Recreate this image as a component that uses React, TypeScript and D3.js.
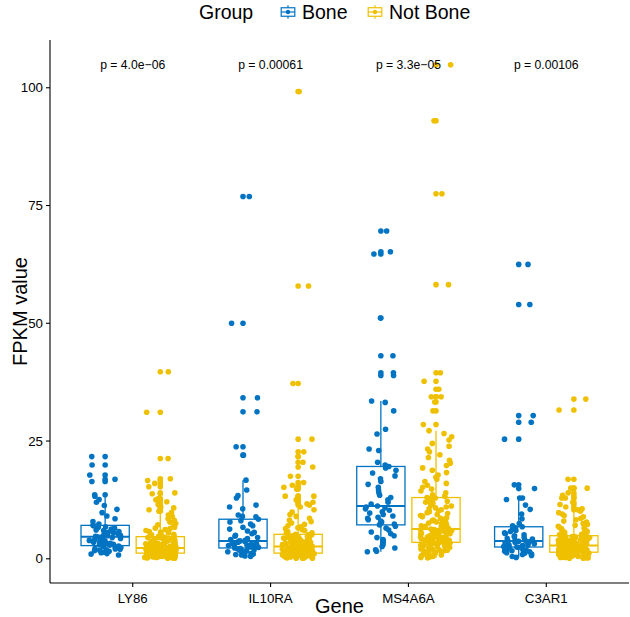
import React from 'react';
import * as d3 from 'd3';

const genes = ['LY86', 'IL10RA', 'MS4A6A', 'C3AR1'];
const groups = ['Bone', 'Not Bone'];
const groupColors = ['#0073C2', '#EFC000'];
const pLabels = ['p = 4.0e\u221206', 'p = 0.00061', 'p = 3.3e\u221205', 'p = 0.00106'];
const yTicks = [0, 25, 50, 75, 100];

const ly86Bone = [
  0.8, 1.0, 1.1, 1.3, 1.4, 1.6, 1.7, 1.8, 1.9, 2.0, 2.1, 2.2, 2.4, 2.5, 2.6, 2.7,
  2.8,
  2.9, 3.0, 3.1, 3.2, 3.3, 3.4, 3.5, 3.6, 3.8, 3.9, 4.0, 4.2, 4.3, 4.5, 4.6,
  4.7,
  4.8, 4.9, 5.0, 5.2, 5.3, 5.5, 5.6, 5.8, 6.0, 6.1, 6.3, 6.5, 6.7, 6.8, 7.0,
  7.1,
  7.4, 7.9, 8.5, 9.1, 9.8, 10.5, 11.3, 12.0, 12.6, 13.3, 13.6, 16.4, 16.9, 17.8, 19.9, 21.7,
];
const ly86NotBone = [
  0.1, 0.1, 0.2, 0.2, 0.2, 0.3, 0.3, 0.3, 0.4, 0.4, 0.4, 0.5, 0.5, 0.5, 0.5, 0.6, 0.6, 0.6, 0.6, 0.7,
  0.7, 0.7, 0.7, 0.8, 0.8, 0.8, 0.8, 0.9, 0.9, 0.9, 0.9, 1.0, 1.0, 1.0, 1.0, 1.1, 1.1, 1.1, 1.1, 1.2,
  1.2,
  1.2, 1.3, 1.3, 1.3, 1.4, 1.4, 1.4, 1.5, 1.5, 1.5, 1.6, 1.6, 1.6, 1.7, 1.7, 1.7, 1.8, 1.8, 1.8, 1.8,
  1.9, 1.9, 1.9, 2.0, 2.0, 2.0, 2.0, 2.1, 2.1, 2.1, 2.1, 2.2, 2.2, 2.2, 2.2, 2.3, 2.3, 2.3, 2.3,
  2.3,
  2.4, 2.4, 2.5, 2.5, 2.6, 2.6, 2.7, 2.7, 2.8, 2.8, 2.9, 2.9, 3.0, 3.0, 3.1, 3.1, 3.2, 3.2, 3.3, 3.3,
  3.4, 3.5, 3.5, 3.6, 3.7, 3.7, 3.8, 3.9, 4.0, 4.0, 4.1, 4.2, 4.2, 4.3, 4.4, 4.5, 4.5, 4.6, 4.6,
  4.7,
  4.8, 4.9, 5.0, 5.1, 5.2, 5.4, 5.5, 5.7, 5.8, 6.0, 6.2, 6.4, 6.5, 6.7, 7.0, 7.2, 7.5, 7.8, 8.1, 8.5,
  8.9, 9.3, 9.8,
  10.1, 10.4, 10.8, 11.0, 11.5, 12.1, 12.5, 12.8, 13.8, 14.0, 15.3, 16.0, 16.6, 17.0, 21.3, 31.1, 39.7,
];
const il10raBone = [
  0.5, 0.6, 0.8, 0.9, 1.0, 1.1, 1.2, 1.3, 1.4, 1.5, 1.6, 1.7, 1.8, 1.9, 2.1, 2.2,
  2.3,
  2.4, 2.5, 2.6, 2.7, 2.8, 2.9, 3.0, 3.0, 3.1, 3.2, 3.3, 3.4, 3.5, 3.6, 3.7,
  3.8,
  3.9, 4.1, 4.3, 4.5, 4.8, 5.0, 5.3, 5.6, 5.9, 6.3, 6.7, 7.0, 7.4, 7.8, 8.1,
  8.4,
  8.9, 9.0, 9.3, 10.6, 11.0, 11.4, 12.9, 13.4, 14.6, 16.7, 22.0, 23.8, 31.2, 34.2, 50.0, 76.9,
];
const il10raNotBone = [
  0.1, 0.1, 0.1, 0.2, 0.2, 0.2, 0.3, 0.3, 0.3, 0.4, 0.4, 0.4, 0.5, 0.5, 0.5, 0.5, 0.6, 0.6, 0.6, 0.7,
  0.7, 0.7, 0.7, 0.8, 0.8, 0.8, 0.8, 0.9, 0.9, 0.9, 0.9, 1.0, 1.0, 1.0, 1.0, 1.1, 1.1, 1.1, 1.1, 1.2,
  1.2,
  1.3, 1.3, 1.3, 1.4, 1.4, 1.4, 1.5, 1.5, 1.5, 1.6, 1.6, 1.6, 1.7, 1.7, 1.7, 1.8, 1.8, 1.8, 1.9, 1.9,
  1.9, 2.0, 2.0, 2.0, 2.1, 2.1, 2.1, 2.2, 2.2, 2.2, 2.3, 2.3, 2.3, 2.4, 2.4, 2.4, 2.5, 2.5, 2.5,
  2.6,
  2.7, 2.7, 2.8, 2.8, 2.9, 2.9, 3.0, 3.0, 3.1, 3.1, 3.2, 3.3, 3.3, 3.4, 3.5, 3.5, 3.6, 3.7, 3.7, 3.8,
  3.9, 4.0, 4.0, 4.1, 4.2, 4.3, 4.3, 4.4, 4.5, 4.6, 4.6, 4.7, 4.8, 4.8, 4.9, 5.0, 5.0, 5.1, 5.1,
  5.2,
  5.3, 5.5, 5.6, 5.8, 6.0, 6.2, 6.4, 6.6, 6.8, 7.0, 7.3, 7.6, 7.9, 8.2, 8.6, 9.0, 9.4, 9.9, 10.4, 11.0,
  11.4, 11.7, 12.0, 12.5, 12.8, 13.3, 13.3, 14.8, 15.2, 15.6, 16.2, 17.5, 19.5, 20.5, 21.7, 22.7, 25.4,
  37.2, 57.9, 99.2,
];
const ms4a6aBone = [
  1.5, 1.6, 1.9, 2.3, 2.6, 3.0, 3.4, 3.8, 4.1, 4.5, 4.9, 5.3, 5.7, 6.1, 6.5, 6.9,
  7.2,
  7.4, 7.6, 7.8, 8.0, 8.3, 8.6, 8.8, 9.1, 9.4, 9.7, 10.0, 10.3, 10.6, 10.8, 11.0,
  11.2,
  11.6, 12.0, 12.5, 13.0, 13.5, 14.0, 14.6, 15.2, 15.8, 16.4, 17.0, 17.6, 18.2, 18.8, 19.3,
  19.6,
  19.9, 20.5, 23.0, 23.3, 26.5, 27.5, 31.4, 33.2, 33.5, 38.9, 39.5, 43.1, 51.1, 64.7, 65.2, 69.6,
];
const ms4a6aNotBone = [
  0.2, 0.3, 0.4, 0.5, 0.6, 0.7, 0.8, 0.9, 1.0, 1.1, 1.2, 1.3, 1.4, 1.5, 1.6, 1.7, 1.8, 1.9, 2.0, 2.1,
  2.2, 2.3, 2.4, 2.4, 2.5, 2.6, 2.7, 2.7, 2.8, 2.9, 2.9, 3.0, 3.0, 3.1, 3.2, 3.2, 3.3, 3.3, 3.4, 3.4,
  3.5,
  3.6, 3.6, 3.7, 3.7, 3.8, 3.8, 3.9, 3.9, 4.0, 4.0, 4.1, 4.2, 4.2, 4.3, 4.4, 4.4, 4.5, 4.6, 4.6, 4.7,
  4.8, 4.9, 4.9, 5.0, 5.1, 5.2, 5.2, 5.3, 5.4, 5.5, 5.6, 5.7, 5.8, 5.8, 5.9, 6.0, 6.1, 6.2, 6.2,
  6.3,
  6.4, 6.5, 6.6, 6.8, 6.9, 7.0, 7.2, 7.3, 7.5, 7.6, 7.8, 7.9, 8.1, 8.2, 8.4, 8.6, 8.7, 8.9, 9.1, 9.2,
  9.4, 9.6, 9.8, 10.0, 10.2, 10.4, 10.6, 10.8, 11.0, 11.2, 11.4, 11.6, 11.8, 12.0, 12.2, 12.4, 12.6, 12.8, 12.9,
  13.0,
  13.3, 13.6, 14.0, 14.4, 14.8, 15.2, 15.6, 16.0, 16.4, 16.9, 17.3, 17.8, 18.3, 18.8, 19.3, 19.8, 20.3, 20.9,
  21.5, 22.1, 22.7, 23.3, 23.9, 24.5, 25.2, 25.9, 26.6, 27.2,
  28.5, 31.4, 33.3, 34.4, 34.4, 36.0, 37.7, 39.5, 58.2, 77.5, 93.0, 104.9,
];
const c3ar1Bone = [
  0.3, 0.5, 0.7, 0.9, 1.0, 1.2, 1.3, 1.5, 1.6, 1.7, 1.8, 1.9, 2.0, 2.1, 2.3, 2.4,
  2.5,
  2.6, 2.6, 2.7, 2.8, 2.9, 2.9, 3.0, 3.1, 3.2, 3.3, 3.4, 3.5, 3.6, 3.6, 3.7,
  3.8,
  3.9, 4.0, 4.2, 4.3, 4.5, 4.7, 4.9, 5.1, 5.3, 5.5, 5.8, 6.0, 6.2, 6.4, 6.6,
  6.8,
  7.0, 7.5, 8.5, 9.5, 10.5, 11.4, 12.6, 12.9, 12.9, 14.9, 15.7, 25.4, 29.0, 30.4, 54.0, 62.5,
];
const c3ar1NotBone = [
  0.1, 0.1, 0.2, 0.2, 0.2, 0.3, 0.3, 0.3, 0.4, 0.4, 0.4, 0.5, 0.5, 0.5, 0.6, 0.6, 0.6, 0.7, 0.7, 0.7,
  0.8, 0.8, 0.8, 0.9, 0.9, 0.9, 1.0, 1.0, 1.0, 1.0, 1.1, 1.1, 1.1, 1.2, 1.2, 1.2, 1.3, 1.3, 1.3, 1.3,
  1.4,
  1.4, 1.5, 1.5, 1.5, 1.6, 1.6, 1.6, 1.7, 1.7, 1.7, 1.8, 1.8, 1.8, 1.9, 1.9, 1.9, 2.0, 2.0, 2.0, 2.1,
  2.1, 2.1, 2.2, 2.2, 2.2, 2.3, 2.3, 2.3, 2.4, 2.4, 2.4, 2.5, 2.5, 2.5, 2.6, 2.6, 2.6, 2.7, 2.7,
  2.8,
  2.8, 2.9, 2.9, 3.0, 3.0, 3.1, 3.1, 3.2, 3.2, 3.3, 3.3, 3.4, 3.4, 3.5, 3.5, 3.6, 3.6, 3.7, 3.7, 3.8,
  3.8, 3.9, 3.9, 4.0, 4.0, 4.1, 4.1, 4.2, 4.2, 4.3, 4.3, 4.4, 4.4, 4.5, 4.5, 4.6, 4.7, 4.7, 4.8,
  4.9,
  5.0, 5.1, 5.2, 5.3, 5.5, 5.6, 5.7, 5.9, 6.0, 6.2, 6.4, 6.5, 6.7, 6.9, 7.1, 7.3, 7.5, 7.8, 8.0, 8.3,
  8.6, 8.9, 9.2, 9.5, 9.8, 10.1,
  10.4, 10.6, 11.0, 11.5, 12.0, 12.9, 12.9, 13.5, 14.0, 15.0, 15.0, 16.9, 31.6, 33.9,
];

const seriesByGene: number[][][] = [
  [ly86Bone, ly86NotBone],
  [il10raBone, il10raNotBone],
  [ms4a6aBone, ms4a6aNotBone],
  [c3ar1Bone, c3ar1NotBone],
];

const W = 630;
const H = 617;
const panel = { left: 50, right: 629, top: 40, bottom: 583 };
const FONT = 'Liberation Sans, Arial, Helvetica, sans-serif';

function boxStats(v: number[]) {
  const s = [...v].sort(d3.ascending);
  const q1 = d3.quantile(s, 0.25) as number;
  const med = d3.quantile(s, 0.5) as number;
  const q3 = d3.quantile(s, 0.75) as number;
  const iqr = q3 - q1;
  const lo = q1 - 1.5 * iqr;
  const hi = q3 + 1.5 * iqr;
  const inside = s.filter((d) => d >= lo && d <= hi);
  return {
    q1, med, q3,
    wLo: d3.min(inside) as number,
    wHi: d3.max(inside) as number,
    outliers: s.filter((d) => d < lo || d > hi),
  };
}

function jit(i: number, k: number, g: number) {
  const h = Math.sin((i + 1) * 12.9898 + k * 78.233 + g * 37.719) * 43758.5453;
  return (h - Math.floor(h)) * 2 - 1;
}

export default function App() {
  const all = seriesByGene.flat(2);
  const yMin = d3.min(all) as number;
  const yMax = d3.max(all) as number;
  const pad = (yMax - yMin) * 0.05;
  const y = d3.scaleLinear().domain([yMin - pad, yMax + pad]).range([panel.bottom, panel.top]);
  const x = d3.scaleLinear().domain([0.4, genes.length + 0.6]).range([panel.left, panel.right]);
  const unit = x(1) - x(0);
  const dodge = 0.2 * unit;
  const boxW = 0.35 * unit;
  const jw = 0.115 * unit;
  const r = 2.8;

  const boxes: React.ReactNode[] = [];
  const points: React.ReactNode[] = [];
  seriesByGene.forEach((pair, k) => {
    pair.forEach((vals, g) => {
      const cx = x(k + 1) + (g === 0 ? -dodge : dodge);
      const st = boxStats(vals);
      const col = groupColors[g];
      boxes.push(
        <g key={`b${k}-${g}`} stroke={col} strokeWidth={1.3} fill="none">
          <line x1={cx} x2={cx} y1={y(st.q3)} y2={y(st.wHi)} />
          <line x1={cx} x2={cx} y1={y(st.q1)} y2={y(st.wLo)} />
          <rect x={cx - boxW / 2} y={y(st.q3)} width={boxW} height={y(st.q1) - y(st.q3)} fill="white" />
          <line x1={cx - boxW / 2} x2={cx + boxW / 2} y1={y(st.med)} y2={y(st.med)} strokeWidth={2} />
          {st.outliers.map((o, i) => (
            <circle key={i} cx={cx} cy={y(o)} r={r} fill={col} stroke="none" />
          ))}
        </g>
      );
      vals.forEach((v, i) => {
        points.push(
          <circle key={`p${k}-${g}-${i}`} cx={cx + jit(i, k, g) * jw} cy={y(v)} r={r} fill={col} />
        );
      });
    });
  });

  const legendY = 12;
  const keyCenters = [288, 375];
  const legendTextX = [302, 389];

  return (
    <svg width={W} height={H} style={{ position: 'absolute', left: 0, top: 0, background: 'white' }} fontFamily={FONT}>
      <rect x={0} y={0} width={W} height={H} fill="white" />
      {boxes}
      {points}
      {pLabels.map((t, k) => (
        <text key={t} x={x(k + 1)} y={y(yMax)} dy="0.35em" textAnchor="middle" fontSize={12.2} fill="black">
          {t}
        </text>
      ))}
      <line x1={panel.left} x2={panel.left} y1={panel.top} y2={panel.bottom} stroke="black" strokeWidth={1.1} />
      <line x1={panel.left} x2={panel.right} y1={panel.bottom} y2={panel.bottom} stroke="black" strokeWidth={1.1} />
      {yTicks.map((t) => (
        <g key={t}>
          <line x1={panel.left - 4} x2={panel.left} y1={y(t)} y2={y(t)} stroke="black" strokeWidth={1.1} />
          <text x={panel.left - 7} y={y(t)} dy="0.35em" textAnchor="end" fontSize={13.3} fill="black">
            {t}
          </text>
        </g>
      ))}
      {genes.map((gname, k) => (
        <g key={gname}>
          <line x1={x(k + 1)} x2={x(k + 1)} y1={panel.bottom} y2={panel.bottom + 4} stroke="black" strokeWidth={1.1} />
          <text x={x(k + 1)} y={panel.bottom + 15} dy="0.35em" textAnchor="middle" fontSize={13.3} fill="black">
            {gname}
          </text>
        </g>
      ))}
      <text x={(panel.left + panel.right) / 2} y={606} dy="0.35em" textAnchor="middle" fontSize={20} fill="black">
        Gene
      </text>
      <text transform={`translate(20,${(panel.top + panel.bottom) / 2}) rotate(-90)`} dy="0.35em" textAnchor="middle" fontSize={20} fill="black">
        FPKM value
      </text>
      <text x={199} y={legendY} dy="0.35em" fontSize={19.5} fill="black">Group</text>
      {groups.map((gname, g) => {
        const kx = keyCenters[g];
        const col = groupColors[g];
        const ks = 17;
        return (
          <g key={gname}>
            <g stroke={col} strokeWidth={1.2} fill="none">
              <line x1={kx} x2={kx} y1={legendY - ks * 0.4} y2={legendY + ks * 0.4} />
              <rect x={kx - ks * 0.4} y={legendY - ks * 0.25} width={ks * 0.8} height={ks * 0.5} fill="white" />
              <line x1={kx - ks * 0.4} x2={kx + ks * 0.4} y1={legendY} y2={legendY} />
            </g>
            <circle cx={kx} cy={legendY} r={2.2} fill={col} />
            <text x={legendTextX[g]} y={legendY} dy="0.35em" fontSize={19.5} fill="black">
              {gname}
            </text>
          </g>
        );
      })}
    </svg>
  );
}
